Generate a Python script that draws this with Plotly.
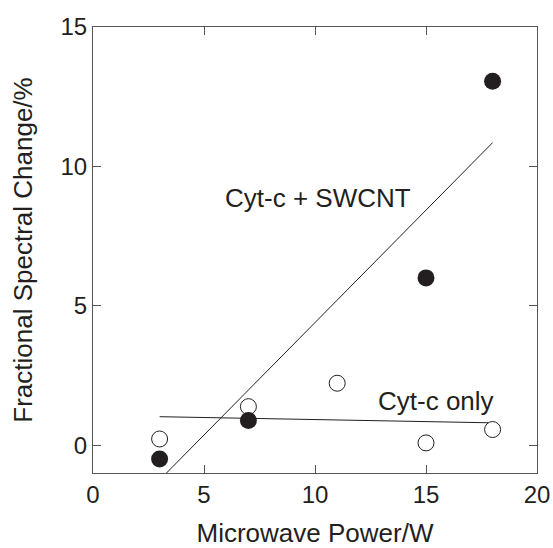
import plotly.graph_objects as go

# Data
power_swcnt = [3, 7, 15, 18]
change_swcnt = [-0.5, 0.88, 6.0, 13.05]
power_only = [3, 7, 11, 15, 18]
change_only = [0.22, 1.38, 2.22, 0.08, 0.56]
fit_swcnt_x = [3.0, 18.0]
fit_swcnt_y = [-1.25, 10.85]
fit_only_x = [3.0, 18.0]
fit_only_y = [1.02, 0.8]
x_ticks = [0, 5, 10, 15, 20]
y_ticks = [0, 5, 10, 15]

FONT = "Liberation Sans, Arial, Helvetica, sans-serif"
INK = "#231f20"

fig = go.Figure()
fig.add_trace(go.Scatter(x=fit_swcnt_x, y=fit_swcnt_y, mode="lines",
                         line=dict(color=INK, width=1), showlegend=False))
fig.add_trace(go.Scatter(x=fit_only_x, y=fit_only_y, mode="lines",
                         line=dict(color=INK, width=1), showlegend=False))
fig.add_trace(go.Scatter(x=power_only, y=change_only, mode="markers",
                         marker=dict(size=16, color="white", line=dict(color=INK, width=1)),
                         showlegend=False, cliponaxis=False))
fig.add_trace(go.Scatter(x=power_swcnt, y=change_swcnt, mode="markers",
                         marker=dict(size=17, color=INK, line=dict(color=INK, width=0)),
                         showlegend=False, cliponaxis=False))

fig.add_annotation(x=10.15, y=8.85, text="Cyt-c + SWCNT", showarrow=False,
                   font=dict(family=FONT, size=26, color=INK))
fig.add_annotation(x=15.45, y=1.6, text="Cyt-c only", showarrow=False,
                   font=dict(family=FONT, size=26, color=INK))

axis_common = dict(showgrid=False, zeroline=False, showline=True, mirror="ticks",
                   linecolor="#555555", linewidth=1, ticks="inside", ticklen=8,
                   tickcolor="#555555", tickwidth=1, automargin=False,
                   tickfont=dict(family=FONT, size=24, color=INK))

fig.update_xaxes(range=[0, 20], tickvals=x_ticks, **axis_common,
                 title=dict(text="Microwave Power/W", font=dict(family=FONT, size=26, color=INK),
                            standoff=22))
fig.update_yaxes(range=[-1, 15], tickvals=y_ticks, **axis_common,
                 title=dict(text="Fractional Spectral Change/%", font=dict(family=FONT, size=26, color=INK),
                            standoff=20))

fig.update_layout(width=553, height=548, margin=dict(l=93, r=16, t=27, b=75, autoexpand=False),
                  plot_bgcolor="white", paper_bgcolor="white",
                  font=dict(family=FONT, size=26, color=INK))

fig.write_html("out.html")
